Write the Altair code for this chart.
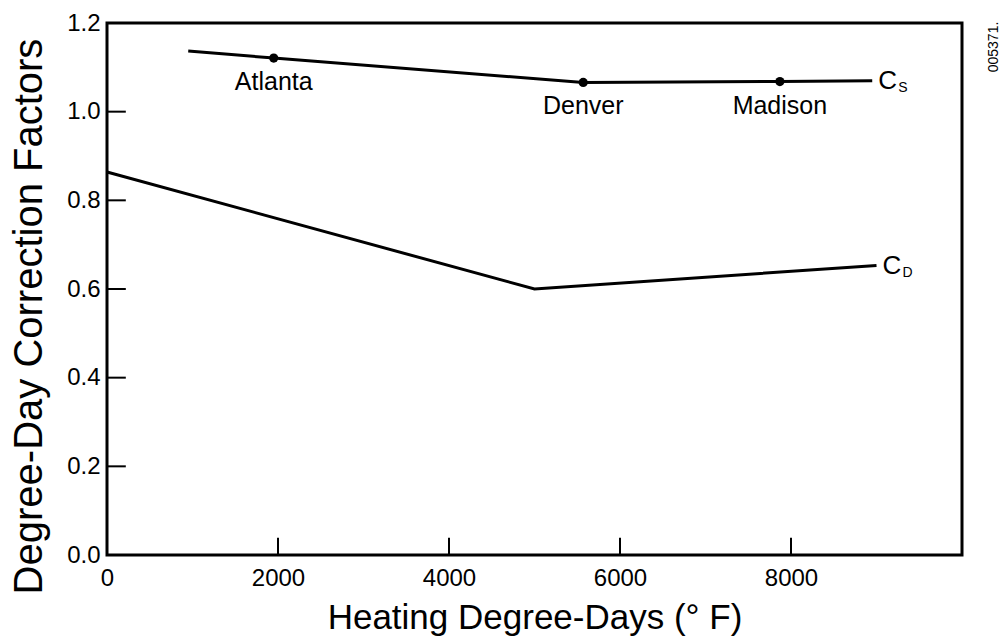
import altair as alt
import pandas as pd

# C_S curve
cs_hdd = [950, 1950, 5570, 7870, 8950]
cs_val = [1.137, 1.121, 1.066, 1.068, 1.070]
# C_D curve
cd_hdd = [0, 5000, 9000]
cd_val = [0.864, 0.600, 0.653]
# cities marked on C_S
cities = ["Atlanta", "Denver", "Madison"]
city_hdd = [1950, 5570, 7870]
city_val = [1.121, 1.066, 1.068]
# curve end labels
curve_main = ["C", "C"]
curve_sub = ["S", "D"]
curve_end_hdd = [8950, 9000]
curve_end_val = [1.070, 0.653]
# ticks
x_ticks = [0, 2000, 4000, 6000, 8000]
y_ticks = [0.0, 0.2, 0.4, 0.6, 0.8, 1.0, 1.2]
inner_x_ticks = [2000, 4000, 6000, 8000]
inner_y_ticks = [0.2, 0.4, 0.6, 0.8, 1.0]

FONT = "Liberation Sans"
XTITLE = "Heating Degree-Days (° F)"
YTITLE = "Degree-Day Correction Factors"

lines_df = pd.DataFrame(
    {"hdd": cs_hdd + cd_hdd,
     "val": cs_val + cd_val,
     "curve": ["S"] * len(cs_hdd) + ["D"] * len(cd_hdd)}
)
city_df = pd.DataFrame({"city": cities, "hdd": city_hdd, "val": city_val})
end_df = pd.DataFrame({"main": curve_main, "sub": curve_sub,
                       "hdd": curve_end_hdd, "val": curve_end_val})
xt_df = pd.DataFrame({"hdd": inner_x_ticks})
yt_df = pd.DataFrame({"val": inner_y_ticks})

xscale = alt.Scale(domain=[0, 10000], nice=False, zero=False)
yscale = alt.Scale(domain=[0, 1.2], nice=False, zero=False)

xenc = alt.X(
    "hdd:Q", scale=xscale, title=XTITLE,
    axis=alt.Axis(
        title=XTITLE, values=x_ticks, format="d",
        tickSize=0, domain=False, grid=False, labelFontSize=24,
        labelPadding=11, labelColor="black", labelFont=FONT,
        titleFont=FONT, titleFontSize=35, titleFontWeight="normal",
        titleColor="black", titleBaseline="alphabetic", titleY=73,
        labelFlush=False,
    ),
)
yenc = alt.Y(
    "val:Q", scale=yscale, title=YTITLE,
    axis=alt.Axis(
        title=YTITLE, values=y_ticks, format=".1f",
        tickSize=0, domain=False, grid=False, labelFontSize=24,
        labelPadding=7, labelColor="black", labelFont=FONT,
        titleFont=FONT, titleFontSize=40, titleFontWeight="normal",
        titleColor="black", titleX=-58, titleY=293, titleBaseline="bottom",
        labelFlush=False,
    ),
)

lines = alt.Chart(lines_df).mark_line(color="black", strokeWidth=3).encode(
    x=xenc, y=yenc, detail="curve:N"
)
points = alt.Chart(city_df).mark_circle(color="black", size=85, opacity=1).encode(
    x=alt.X("hdd:Q", scale=xscale, title=XTITLE),
    y=alt.Y("val:Q", scale=yscale, title=YTITLE),
)
city_text = alt.Chart(city_df).mark_text(
    font=FONT, fontSize=25, baseline="top", align="center", dy=12, color="black"
).encode(
    x=alt.X("hdd:Q", scale=xscale, title=XTITLE),
    y=alt.Y("val:Q", scale=yscale, title=YTITLE),
    text="city:N",
)
main_text = alt.Chart(end_df).mark_text(
    font=FONT, fontSize=26, baseline="middle", align="left", dx=6, color="black"
).encode(
    x=alt.X("hdd:Q", scale=xscale, title=XTITLE),
    y=alt.Y("val:Q", scale=yscale, title=YTITLE),
    text="main:N",
)
sub_text = alt.Chart(end_df).mark_text(
    font=FONT, fontSize=14, baseline="alphabetic", align="left", dx=26, dy=11,
    color="black"
).encode(
    x=alt.X("hdd:Q", scale=xscale, title=XTITLE),
    y=alt.Y("val:Q", scale=yscale, title=YTITLE),
    text="sub:N",
)
xticks = alt.Chart(xt_df).mark_rule(color="black", strokeWidth=2).encode(
    x=alt.X("hdd:Q", scale=xscale, title=XTITLE),
    y=alt.YDatum(0, scale=yscale, title=YTITLE),
    y2=alt.Y2Datum(0.039),
)
yticks = alt.Chart(yt_df).mark_rule(color="black", strokeWidth=2).encode(
    y=alt.Y("val:Q", scale=yscale, title=YTITLE),
    x=alt.XDatum(0, scale=xscale, title=XTITLE),
    x2=alt.X2Datum(220),
)
code_text = alt.Chart(pd.DataFrame({"t": ["005371."]})).mark_text(
    font=FONT, fontSize=14, angle=270, align="center", baseline="middle",
    color="black"
).encode(x=alt.value(887), y=alt.value(24), text="t:N")

chart = alt.layer(
    lines, points, city_text, main_text, sub_text, xticks, yticks, code_text
).properties(
    width=855, height=532,
    autosize=alt.AutoSizeParams(type="none"),
    padding={"left": 107, "top": 23, "right": 43, "bottom": 83},
    background="white",
).configure_view(
    stroke="black", strokeWidth=3
)

chart.save("out.html", embed_options={"renderer": "svg", "actions": False})
